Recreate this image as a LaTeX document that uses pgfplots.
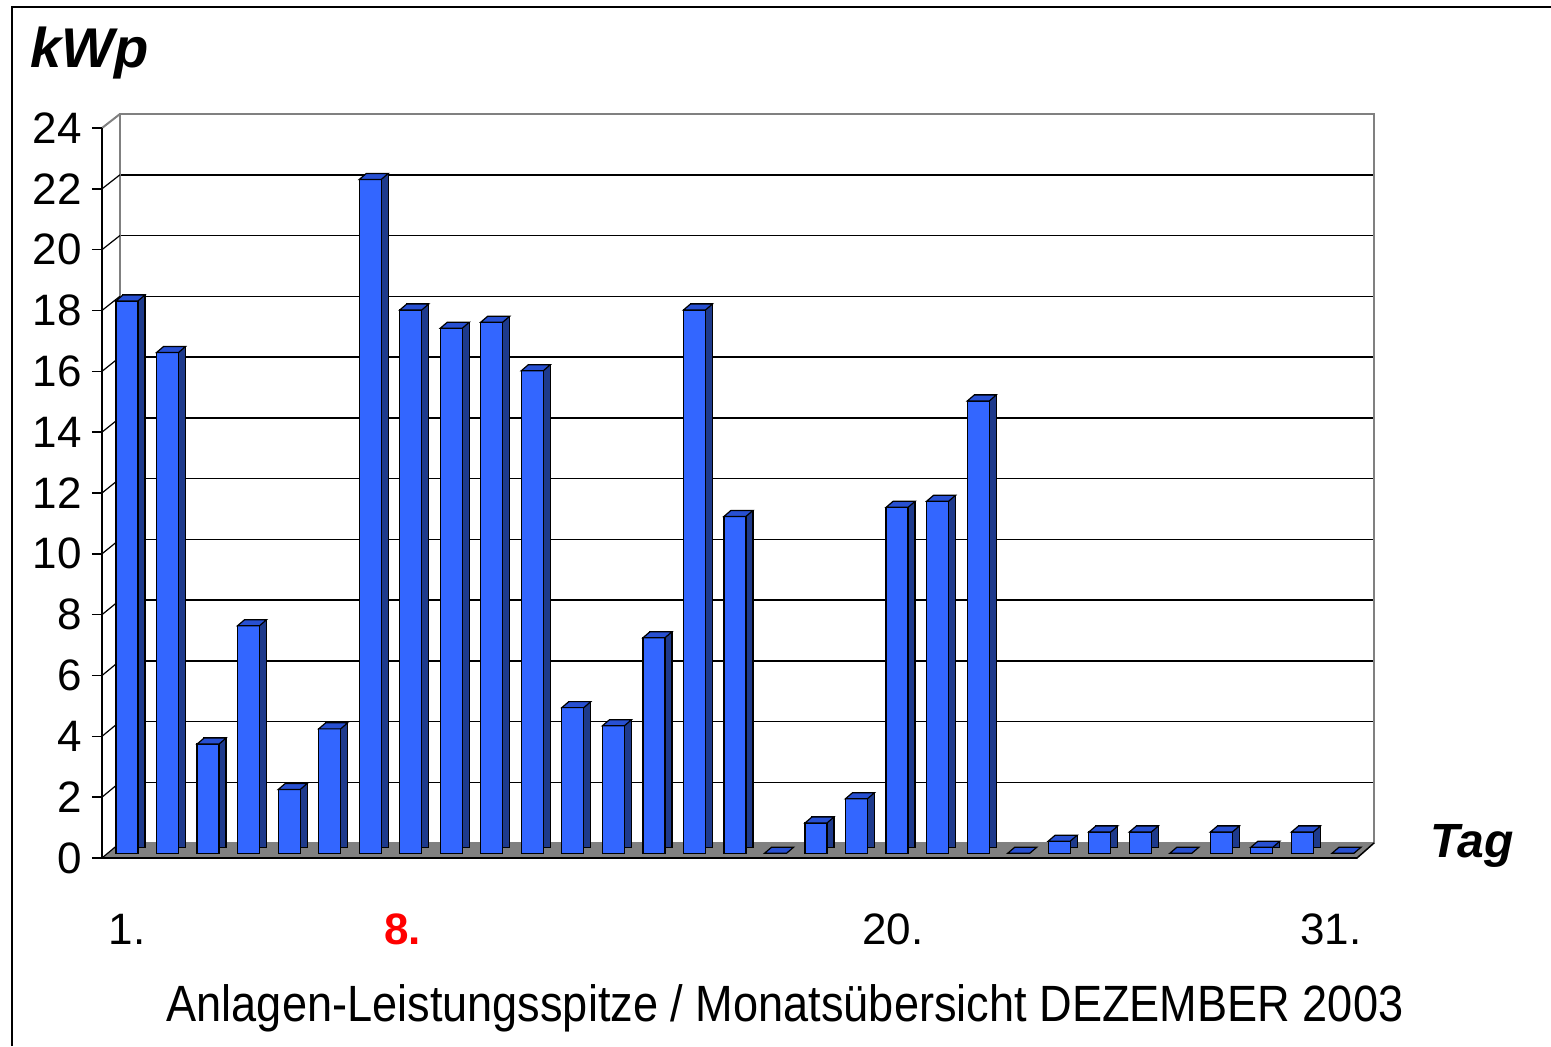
\documentclass[border=0pt]{standalone}
\usepackage{fontspec}
\setmainfont{Liberation Sans}
\usepackage{pgfplots}
\pgfplotsset{compat=1.18}
\usepackage{pgfplotstable}
\definecolor{barfront}{HTML}{3366FF}
\definecolor{barside}{HTML}{1E3A8C}
\definecolor{bartop}{HTML}{2850D2}
\definecolor{floorgray}{HTML}{808080}

\pgfdeclareplotmark{bartopface}{%
  \pgfpathmoveto{\pgfpoint{-5.5pt}{0pt}}%
  \pgfpathlineto{\pgfpoint{5.5pt}{0pt}}%
  \pgfpathlineto{\pgfpoint{9pt}{3pt}}%
  \pgfpathlineto{\pgfpoint{-2pt}{3pt}}%
  \pgfpathclose
  \pgfusepathqfillstroke}

\pgfplotstableread{
day val
1 18.2
2 16.5
3 3.6
4 7.5
5 2.1
6 4.1
7 22.2
8 17.9
9 17.3
10 17.5
11 15.9
12 4.8
13 4.2
14 7.1
15 17.9
16 11.1
17 0
18 1.0
19 1.8
20 11.4
21 11.6
22 14.9
23 0
24 0.4
25 0.7
26 0.7
27 0
28 0.7
29 0.2
30 0.7
31 0
}\datatable

\pgfplotsset{barax/.style={at={#1}, anchor=south west, scale only axis,
  width=627.5pt, height=364.2pt, xmin=0.521, xmax=31.486, ymin=0, ymax=24,
  hide axis, clip=false}}

\begin{document}
\begin{tikzpicture}
\useasboundingbox (0,0) rectangle (775.5pt,523pt);
% frame
\draw[line width=1pt] (6pt,0pt) -- (6pt,519.5pt) -- (775.5pt,519.5pt);

% back wall with grid
\begin{axis}[at={(60pt,101.5pt)}, anchor=south west, scale only axis,
  width=627pt, height=364.5pt, xmin=0, xmax=1, ymin=0, ymax=24,
  xtick=\empty, ytick={2,4,...,22}, yticklabels={}, major tick length=0pt,
  ymajorgrids, grid style={black, line width=0.75pt},
  axis line style={floorgray, line width=1pt}]
\end{axis}

% floor
\fill[floorgray] (51pt,94pt) -- (678.5pt,94pt) -- (687pt,101.5pt) -- (60pt,101.5pt) -- cycle;
\draw[black, line width=0.75pt] (51pt,94pt) -- (678.5pt,94pt) -- (687pt,101.5pt);
% left wall
\draw[floorgray, line width=1pt] (60pt,101.5pt) -- (60pt,466pt);
\foreach \k in {0,2,...,22}
  \draw[black, line width=0.6pt] (51pt,{(94+15.2083*\k)*1pt}) -- (60pt,{(101.5+15.1875*\k)*1pt});
\draw[floorgray, line width=1pt] (51pt,459pt) -- (60pt,466pt);

% front axis with ticks and labels
\begin{axis}[at={(51pt,94pt)}, anchor=south west, scale only axis,
  width=627.5pt, height=365pt, xmin=0.383, xmax=31.35, ymin=0, ymax=24,
  axis x line*=bottom, axis y line*=left,
  ytick={0,2,...,24}, xtick={1,7.8,19.9,30.7},
  xticklabels={1.,{\color{red}\bfseries 8.},20.,31.},
  xtick style={draw=none},
  ytick style={black, line width=0.75pt},
  tick align=outside, major tick length=5pt,
  ticklabel style={font=\fontsize{22}{26}\selectfont},
  yticklabel style={anchor=east, inner sep=0pt, xshift=-5pt},
  xticklabel style={anchor=base, yshift=-38pt},
  /pgf/number format/assume math mode=true,
  axis line style={black, line width=0.75pt},
  clip=false]
\addplot[draw=none, forget plot] coordinates {(1,0)};
\end{axis}

% bars: side/back layer
\begin{axis}[barax={(57.3pt,99.35pt)}]
\addplot[ybar, bar width=11pt, fill=barside, draw=black, line width=0.6pt] table[x=day,y=val]{\datatable};
\end{axis}
% front faces and top faces
\begin{axis}[barax={(53.8pt,96.35pt)}]
\addplot[ybar, bar width=11pt, fill=barfront, draw=black, line width=0.6pt] table[x=day,y=val]{\datatable};
\addplot[only marks, mark=bartopface, mark options={fill=bartop, draw=black, line width=0.6pt}] table[x=day,y=val]{\datatable};
\end{axis}

% titles
\node[anchor=base west, font=\fontsize{28}{32}\selectfont\bfseries\itshape, inner sep=0pt] at (15pt,489pt) {kWp};
\node[anchor=base west, font=\fontsize{24}{28}\selectfont\bfseries\itshape, inner sep=0pt] at (715pt,94.5pt) {Tag};
\node[anchor=base, font=\fontsize{25.5}{30}\selectfont, inner sep=0pt] at (392.5pt,12.5pt) {\scalebox{0.885}[1]{Anlagen-Leistungsspitze / Monatsübersicht DEZEMBER 2003}};
\end{tikzpicture}
\end{document}
